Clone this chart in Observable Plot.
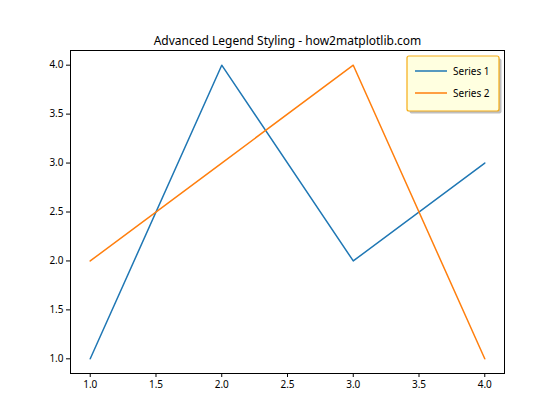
<!DOCTYPE html>
<html>
<head>
<meta charset="utf-8">
<script src="https://cdn.jsdelivr.net/npm/d3@7"></script>
<script src="https://cdn.jsdelivr.net/npm/@observablehq/plot@0.6"></script>
<style>
  body { margin: 0; background: #fff; }
</style>
</head>
<body>
<div id="chart"></div>
<script>
const xValues = [1, 2, 3, 4];
const series1 = [1, 4, 2, 3];
const series2 = [2, 3, 4, 1];
const seriesNames = ["Series 1", "Series 2"];
const seriesColors = ["#1f77b4", "#ff7f0e"];
const tickValues = [1.0, 1.5, 2.0, 2.5, 3.0, 3.5, 4.0];
const title = "Advanced Legend Styling - how2matplotlib.com";

const data = [];
xValues.forEach((x, i) => data.push({x, y: series1[i], s: seriesNames[0]}));
xValues.forEach((x, i) => data.push({x, y: series2[i], s: seriesNames[1]}));

const FONT = "'Noto Sans', 'Open Sans', sans-serif";

const plot = Plot.plot({
  width: 560,
  height: 420,
  marginLeft: 70,
  marginRight: 56,
  marginTop: 50,
  marginBottom: 47,
  style: {fontFamily: FONT, fontSize: "10px", color: "#000", background: "#fff"},
  x: {domain: [0.85, 4.15], ticks: tickValues, tickFormat: d3.format(".1f"), tickSize: 4, tickPadding: 3, label: null},
  y: {domain: [0.85, 4.15], ticks: tickValues, tickFormat: d3.format(".1f"), tickSize: 4, tickPadding: 3, label: null},
  color: {domain: seriesNames, range: seriesColors},
  marks: [
    Plot.line(data, {x: "x", y: "y", z: "s", stroke: "s", strokeWidth: 1.5}),
    Plot.frame({stroke: "#000", strokeWidth: 1}),
    Plot.text([title], {frameAnchor: "top", dy: -14, text: d => d, fontSize: 12, fill: "#000"})
  ]
});
document.getElementById("chart").appendChild(plot);

// Legend
const svg = d3.select(plot);
const lx = 407, ly = 56, lw = 92, lh = 55;
const g = svg.append("g");
g.append("rect").attr("x", lx + 2.5).attr("y", ly + 2.5).attr("width", lw).attr("height", lh)
  .attr("rx", 2).attr("fill", "#7f7f7f").attr("opacity", 0.5);
g.append("rect").attr("x", lx).attr("y", ly).attr("width", lw).attr("height", lh)
  .attr("rx", 2).attr("fill", "#ffffe0").attr("stroke", "#f5ac14").attr("stroke-width", 1.2);
seriesNames.forEach((name, i) => {
  const yy = ly + 15 + i * 22;
  g.append("line").attr("x1", lx + 8).attr("x2", lx + 40).attr("y1", yy).attr("y2", yy)
    .attr("stroke", seriesColors[i]).attr("stroke-width", 1.5);
  g.append("text").attr("x", lx + 46).attr("y", yy).attr("dy", "0.35em")
    .attr("text-anchor", "start").attr("font-family", FONT)
    .attr("font-size", 10).attr("fill", "#000").text(name);
});
</script>
</body>
</html>
